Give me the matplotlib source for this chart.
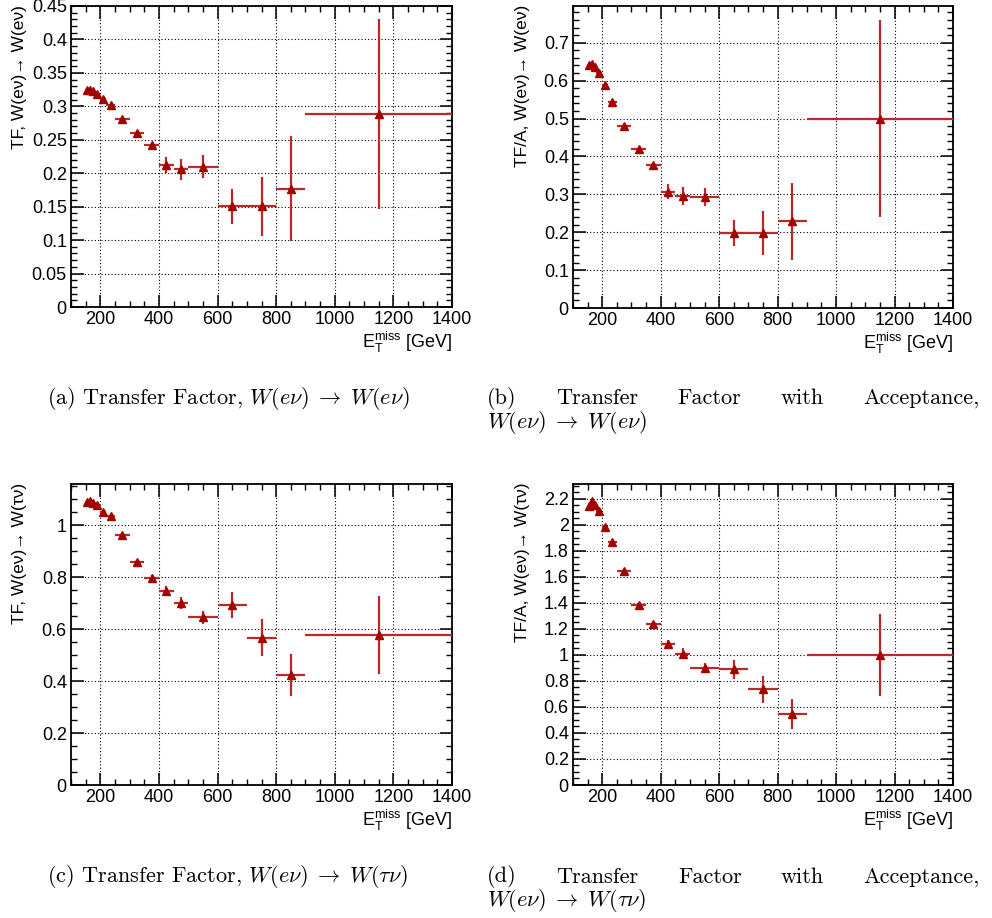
#!/usr/bin/env python3
"""Transfer factors W(enu) -> W(enu) / W(taunu) vs MET, four panels with captions."""
import numpy as np
import matplotlib

matplotlib.use("Agg")
import matplotlib.pyplot as plt  # noqa: E402
from matplotlib.ticker import MultipleLocator, FuncFormatter  # noqa: E402

# bin edges in MET [GeV]
EDGES = [150, 160, 170, 180, 200, 220, 250, 300, 350, 400, 450, 500, 600, 700, 800, 900, 1400]

TF_EE = [0.325, 0.3245, 0.3235, 0.3185, 0.3115, 0.3015, 0.2805, 0.260, 0.242, 0.2125, 0.206,
         0.2095, 0.1505, 0.1505, 0.177, 0.2885]
TF_EE_ERR = [0.002, 0.002, 0.002, 0.002, 0.002, 0.002, 0.003, 0.003, 0.004, 0.0125, 0.016,
             0.017, 0.026, 0.044, 0.078, 0.142]

TFA_EE = [0.640, 0.643, 0.637, 0.620, 0.588, 0.543, 0.479, 0.419, 0.377, 0.307, 0.2965,
          0.292, 0.197, 0.199, 0.229, 0.500]
TFA_EE_ERR = [0.004, 0.004, 0.004, 0.004, 0.004, 0.005, 0.004, 0.005, 0.006, 0.019, 0.024,
              0.024, 0.034, 0.058, 0.102, 0.26]

TF_ET = [1.087, 1.092, 1.085, 1.079, 1.049, 1.035, 0.960, 0.858, 0.797, 0.747, 0.701,
         0.645, 0.691, 0.567, 0.424, 0.578]
TF_ET_ERR = [0.006, 0.006, 0.006, 0.006, 0.007, 0.007, 0.007, 0.008, 0.010, 0.017, 0.023,
             0.026, 0.050, 0.070, 0.081, 0.151]

TFA_ET = [2.146, 2.182, 2.151, 2.105, 1.985, 1.867, 1.644, 1.387, 1.236, 1.087, 1.010,
          0.900, 0.892, 0.736, 0.544, 1.000]
TFA_ET_ERR = [0.012, 0.012, 0.012, 0.012, 0.012, 0.012, 0.011, 0.013, 0.015, 0.028, 0.044,
              0.042, 0.073, 0.104, 0.115, 0.318]

LINE = "#bb2a2a"
MARK = "#a30000"
W, H = 992, 918

plt.rcParams.update({
    "font.family": ["Liberation Sans", "DejaVu Sans"],
    "font.size": 13,
    "mathtext.fontset": "custom",
    "mathtext.rm": "Liberation Sans",
    "mathtext.it": "Liberation Sans:italic",
    "axes.linewidth": 1.3,
    "figure.facecolor": "white",
})


def panel(fig, rect_px, vals, errs, ymax, major, minor, ylabel):
    x0, y0, x1, y1 = rect_px
    ax = fig.add_axes([x0 / W, 1 - y1 / H, (x1 - x0) / W, (y1 - y0) / H])
    edges = np.array(EDGES, dtype=float)
    cen = 0.5 * (edges[1:] + edges[:-1])
    half = 0.5 * (edges[1:] - edges[:-1])
    ax.errorbar(cen, vals, xerr=half, yerr=errs, fmt="none", ecolor=LINE, elinewidth=1.6,
                capsize=0, zorder=3)
    ax.plot(cen, vals, ls="none", marker="^", ms=5.5, color=MARK, zorder=4)
    ax.set_xlim(100, 1400)
    ax.set_ylim(0, ymax)
    ax.xaxis.set_major_locator(MultipleLocator(200))
    ax.xaxis.set_minor_locator(MultipleLocator(50))
    ax.yaxis.set_major_locator(MultipleLocator(major))
    ax.yaxis.set_minor_locator(MultipleLocator(minor))
    ax.yaxis.set_major_formatter(FuncFormatter(lambda v, p: f"{round(v, 4):g}"))
    ax.tick_params(which="both", direction="in", top=True, right=True, labelsize=13)
    ax.tick_params(which="major", length=9, width=1.1, pad=3)
    ax.tick_params(which="minor", length=4.5, width=1.0)
    ax.grid(True, which="major", color="black", ls=(0, (1, 2)), lw=0.8)
    ax.set_axisbelow(True)
    fig.text(x1 / W, 1 - (y1 + 35) / H, r"E$_{\mathrm{T}}^{\mathrm{miss}}$ [GeV]",
             ha="right", va="center", fontsize=13)
    fig.text((x0 - 51) / W, 1 - (y0 - 1) / H, ylabel, rotation=90, ha="center", va="top",
             fontsize=12.5)
    return ax


fig = plt.figure(figsize=(W / 100, H / 100), dpi=100)

panel(fig, (71, 6, 452, 307), TF_EE, TF_EE_ERR, 0.45, 0.05, 0.01, "TF, W(eν)→ W(eν)")
panel(fig, (573, 6, 953, 308), TFA_EE, TFA_EE_ERR, 0.797, 0.1, 0.02, "TF/A, W(eν)→ W(eν)")
panel(fig, (71, 484, 452, 785), TF_ET, TF_ET_ERR, 1.158, 0.2, 0.05, "TF, W(eν)→ W(τν)")
panel(fig, (573, 484, 953, 785), TFA_ET, TFA_ET_ERR, 2.315, 0.2, 0.05, "TF/A, W(eν)→ W(τν)")

CAP = dict(fontsize=16, family="cmr10", math_fontfamily="cm", va="center")
renderer = fig.canvas.get_renderer()


def arrow(target):
    return r"$W(e\nu)\;\rightarrow\;W(" + target + ")$"


def caption_short(y, tag, target):
    fig.text(47 / W, 1 - y / H, tag + " Transfer Factor, " + arrow(target), ha="left", **CAP)


def caption_long(y, tag, target, left=487, right=980):
    # justified first line, like the LaTeX subcaption
    words = [tag, "Transfer", "Factor", "with", "Acceptance,"]
    texts = [fig.text(0, 1 - y / H, w, ha="left", **CAP) for w in words]
    widths = [t.get_window_extent(renderer).width for t in texts]
    gap = (right - left - sum(widths)) / (len(words) - 1)
    x = left
    for t, w in zip(texts, widths):
        t.set_x(x / W)
        x += w + gap
    fig.text(left / W, 1 - (y + 24) / H, arrow(target), ha="left", **CAP)


caption_short(398, "(a)", r"e\nu")
caption_long(398, "(b)", r"e\nu")
caption_short(877, "(c)", r"\tau\nu")
caption_long(877, "(d)", r"\tau\nu")

fig.savefig("out.png", dpi=100)
